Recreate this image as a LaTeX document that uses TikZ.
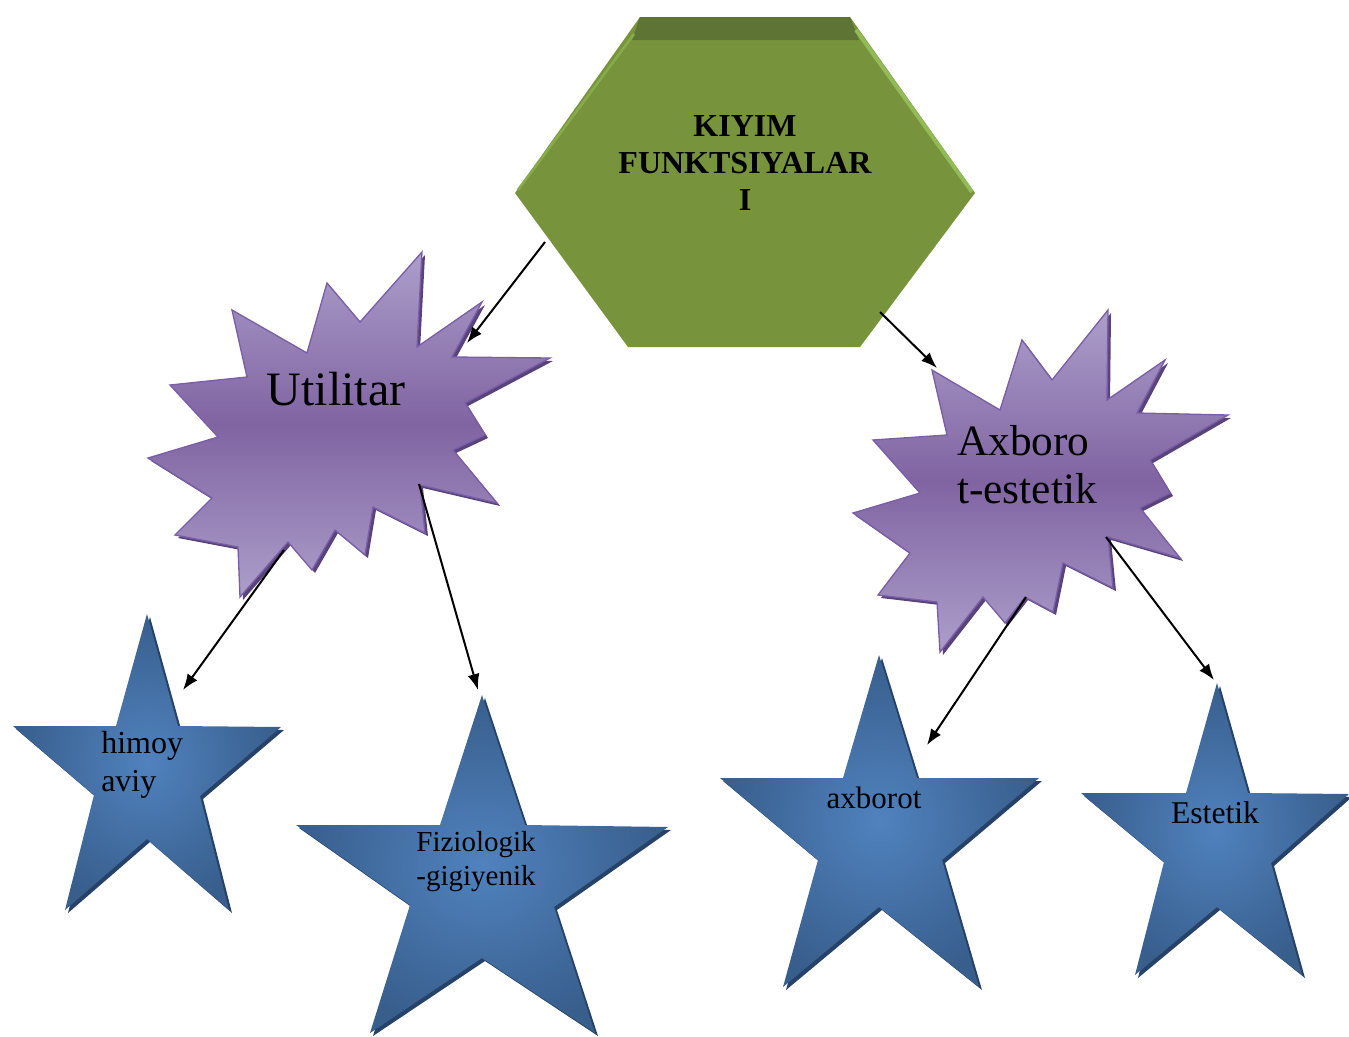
\documentclass[tikz,border=0pt]{standalone}
\usepackage{fontspec}
\setmainfont{Liberation Serif}
\usetikzlibrary{arrows.meta}
\definecolor{hexgreen}{RGB}{119,147,60}
\definecolor{hexdark}{RGB}{94,116,52}
\definecolor{hexlight}{RGB}{146,186,86}
\definecolor{burstlight}{RGB}{172,158,202}
\definecolor{burstmid}{RGB}{128,100,162}
\definecolor{burstedge}{RGB}{122,94,168}
\definecolor{burstdark}{RGB}{88,68,122}
\definecolor{starlight}{RGB}{80,130,190}
\definecolor{stardark}{RGB}{56,94,140}
\definecolor{starshade}{RGB}{38,66,104}
\newcommand{\burstshape}[1]{%
  \fill[burstshadow, shift={(3,3)}] #1;
  \shade[burstfill] #1;}
\newcommand{\starshape}[1]{%
  \fill[starshadow, shift={(3,3)}] #1;
  \shade[starfill] #1;}
\tikzset{
  burstfill/.style={top color=burstlight, bottom color=burstlight, middle color=burstmid, draw=burstedge, line width=1pt},
  burstshadow/.style={fill=burstdark},
  starfill/.style={inner color=starlight, outer color=stardark},
  starshadow/.style={fill=starshade},
  arrow/.style={-{Latex[length=12pt,width=9pt]}, line width=1.5pt},
  title/.style={font=\bfseries\fontsize{24}{27.4}\selectfont, align=center, inner sep=0pt},
  bigtext/.style={inner sep=0pt},
  startext/.style={inner sep=0pt}
}

\begin{document}
\begin{tikzpicture}[x=0.75pt,y=-0.75pt]
  \useasboundingbox (0,0) rectangle (1349,1036);
  \fill[hexgreen] (640,17) -- (850,17) -- (975,193) -- (860,347) -- (628,347) -- (515,193) -- cycle;
  \fill[hexdark] (640,17) -- (850,17) -- (859,40) -- (632,40) -- cycle;
  \draw[hexlight, line width=3pt] (856,30) -- (972,192);
  \draw[hexlight!60!hexgreen, line width=2pt] (634,34) -- (518,190);
  \node[title] (kiyim) at (745,163) {KIYIM\\FUNKTSIYALAR\\I};

  \burstshape{(422,252) -- (417,347) -- (482,302) -- (452,357) -- (550,358) -- (465,403) -- (485,435) -- (453,450) -- (497,503) -- (420,485) -- (425,533) -- (373,507) -- (365,555) -- (335,530) -- (312,570) -- (288,542) -- (240,597) -- (238,547) -- (175,535) -- (212,498) -- (148,458) -- (218,437) -- (170,385) -- (247,377) -- (232,310) -- (307,353) -- (327,283) -- (360,322) -- cycle}
  \node[bigtext, font=\fontsize{36}{42}\selectfont, anchor=base] (util) at (336,405) {Utilitar};

  \burstshape{(1108,310) -- (1107,400) -- (1165,360) -- (1137,413) -- (1228,415) -- (1150,460) -- (1170,493) -- (1140,508) -- (1180,558) -- (1108,537) -- (1113,588) -- (1063,563) -- (1053,612) -- (1025,597) -- (1005,623) -- (983,597) -- (940,652) -- (937,602) -- (878,595) -- (910,553) -- (853,513) -- (920,493) -- (873,440) -- (947,435) -- (932,370) -- (1000,410) -- (1022,340) -- (1052,380) -- cycle}
  \node[bigtext, font=\fontsize{32.5}{36}\selectfont, align=left, anchor=west] (axb) at (957,465) {Axboro\\t-estetik};

  \starshape{(147,614) -- (178,726) -- (281,727) -- (200,796) -- (229,910) -- (147,839) -- (65,910) -- (94,795) -- (13,726) -- (116,726) -- cycle}
  \node[startext, font=\fontsize{24}{29}\selectfont, align=left, anchor=west] (himoy) at (101,765) {himoy\\aviy};

  \starshape{(482,695) -- (525,825) -- (668,827) -- (554,907) -- (595,1033) -- (482,958) -- (370,1033) -- (410,905) -- (296,825) -- (440,825) -- cycle}
  \node[startext, font=\fontsize{21.75}{25.5}\selectfont, align=center] (fizio) at (476,862) {Fiziologik\\-gigiyenik};

  \starshape{(879,655) -- (917,778) -- (1039,778) -- (942,860) -- (979,987) -- (879,907) -- (783,987) -- (818,860) -- (720,778) -- (843,778) -- cycle}
  \node[startext, font=\fontsize{23.25}{28}\selectfont, anchor=base] (axborot) at (874,808) {axborot};

  \starshape{(1217,683) -- (1248,793) -- (1349,794) -- (1271,863) -- (1302,975) -- (1217,907) -- (1135,975) -- (1164,862) -- (1081,793) -- (1186,793) -- cycle}
  \node[startext, font=\fontsize{23.75}{28}\selectfont, anchor=base] (estetik) at (1215,823) {Estetik};

  \coordinate (kiyimL) at (545,242);
  \coordinate (kiyimR) at (880,312);
  \coordinate (utilTip) at (467,343);
  \coordinate (axbTip) at (937,368);
  \coordinate (utilSW) at (284,550);
  \coordinate (utilSE) at (419,484);
  \coordinate (axbS) at (1026,597);
  \coordinate (axbSE) at (1106,537);
  \coordinate (himoyTip) at (183,690);
  \coordinate (fizioTip) at (478,690);
  \coordinate (axborotTip) at (927,745);
  \coordinate (estetikTip) at (1214,680);
  \draw[arrow] (kiyimL) -- (utilTip);
  \draw[arrow] (kiyimR) -- (axbTip);
  \draw[arrow] (utilSW) -- (himoyTip);
  \draw[arrow] (utilSE) -- (fizioTip);
  \draw[arrow] (axbS) -- (axborotTip);
  \draw[arrow] (axbSE) -- (estetikTip);
\end{tikzpicture}
\end{document}
